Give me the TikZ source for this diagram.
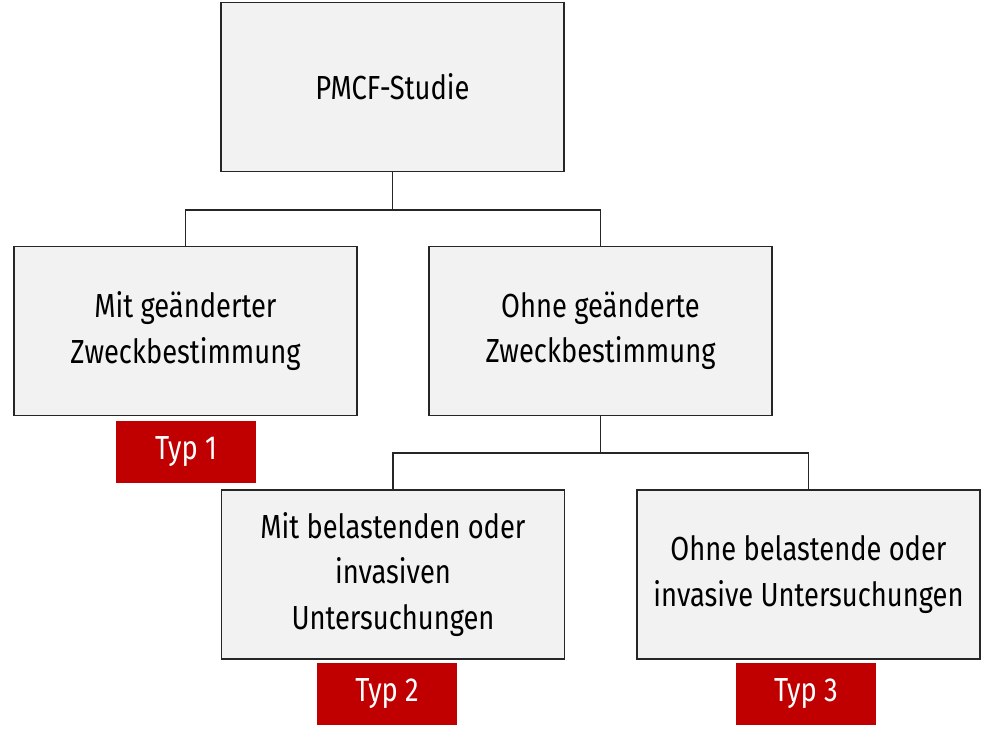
\documentclass[tikz,border=0pt]{standalone}
\usepackage{fontspec}
\setmainfont{Fira Sans}[FakeStretch=0.82]
\definecolor{boxfill}{HTML}{F2F2F2}
\definecolor{typred}{HTML}{C00000}
\begin{document}
\begin{tikzpicture}[x=0.75pt,y=-0.75pt,
  box/.style={draw=black!85,line width=1.1pt,fill=boxfill,minimum width=257pt,minimum height=127pt,align=center,font=\fontsize{25}{34}\selectfont,inner sep=0pt},
  typ/.style={fill=typred,text=white,minimum width=105pt,minimum height=46pt,inner sep=0pt,font=\fontsize{25}{30}\selectfont},
  conn/.style={draw=black!85,line width=1.1pt}]
\useasboundingbox (0,0) rectangle (1000,746);
\node[box] (root) at (392.5,87) {PMCF-Studie};
\node[box] (mit) at (185.5,331) {Mit geänderter\\Zweckbestimmung};
\node[box] (ohne) at (600.5,331) {Ohne geänderte\\Zweckbestimmung};
\node[box] (mb) at (393,574.5) {Mit belastenden oder\\invasiven\\Untersuchungen};
\node[box] (ob) at (808.5,574.5) {Ohne belastende oder\\invasive Untersuchungen};
\node[typ] (t1) at (186,452) {Typ 1};
\node[typ] (t2) at (387,694) {Typ 2};
\node[typ] (t3) at (806,694) {Typ 3};
\coordinate (j1) at (392.5,210);
\coordinate (j2) at (600.5,453);
\draw[conn] (root.south) -- (j1);
\draw[conn] (mit.north) |- (j1) -| (ohne.north);
\draw[conn] (ohne.south) -- (j2);
\draw[conn] (mb.north) |- (j2) -| (ob.north);
\end{tikzpicture}
\end{document}
